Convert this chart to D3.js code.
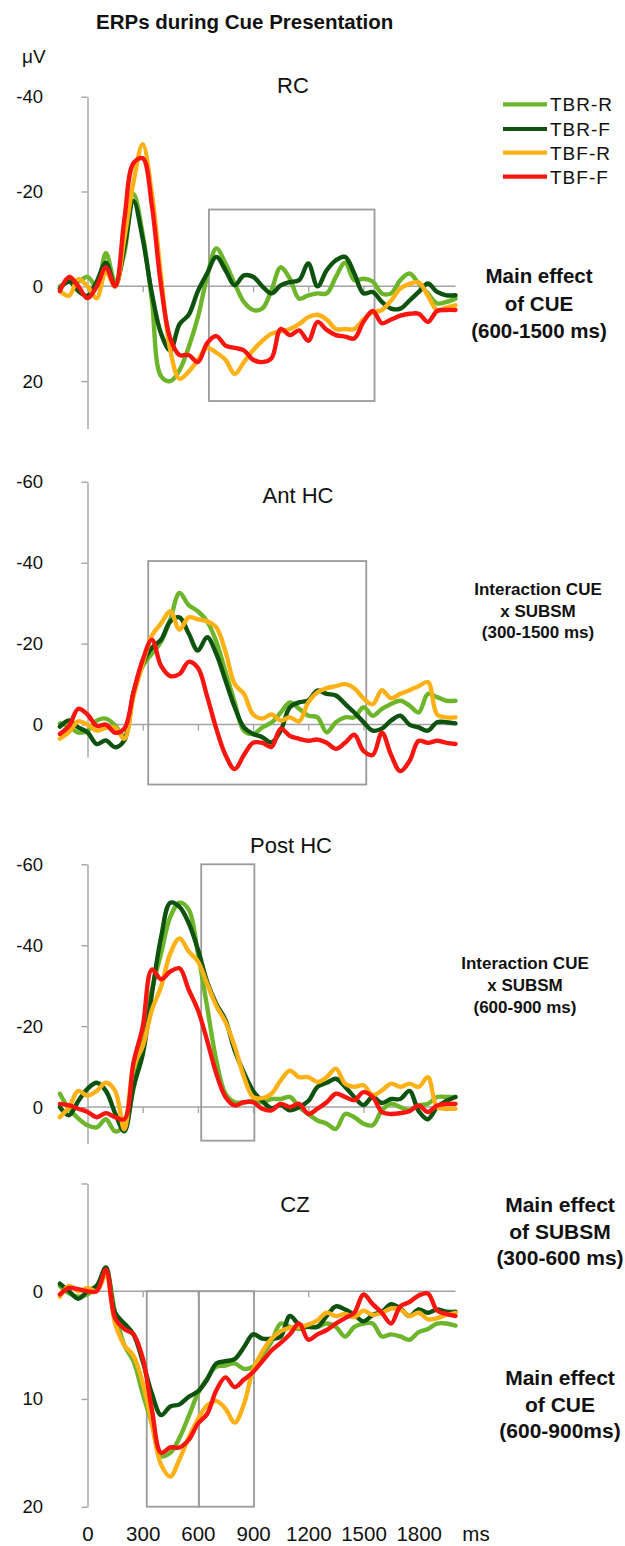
<!DOCTYPE html>
<html>
<head>
<meta charset="utf-8">
<script src="https://cdn.jsdelivr.net/npm/d3@7"></script>
<style>
  html, body { margin: 0; padding: 0; background: #fff; }
  svg { display: block; font-family: Arial, "Liberation Sans", sans-serif; }
</style>
</head>
<body>
<svg id="chart" width="625" height="1546"></svg>
<script>
// ---- sample times (ms) shared by every waveform ----
const times = [-150, -100, -50, 0, 50, 100, 150, 200, 250, 300, 350,
  400, 450, 500, 550, 600, 650, 700, 750, 800, 850, 900,
  950, 1000, 1050, 1100, 1150, 1200, 1250, 1300, 1350, 1400, 1450,
  1500, 1550, 1600, 1650, 1700, 1750, 1800, 1850, 1900, 1950, 2000];

const conditions = ["TBR-R", "TBR-F", "TBF-R", "TBF-F"];
const conditionColors = ["#6db52a", "#0d520f", "#fdb116", "#fa1610"];

// ---- RC (µV) ----
const rcTbrR = [0, -1, -1, -2, 0, -7, -1, -7, -19.5, -11, 3,
  19, 20, 17.7, 12.8, 6.5, -2, -8, -4.8, -0.6, 3.3, 5,
  4.7, 0.8, -4, -1.6, 2.6, 1.9, 1.5, 1.5, -2, -5, -1.3,
  -1.6, -1, 1.5, 1.5, -1.3, -2.7, -0.6, 1.5, 3.6, 3.3, 2.6];
const rcTbrF = [0.5, -1, 1, 2, -1, -5, 0, -8, -18, -10, 1.5,
  10, 13.5, 8, 6, 1, -2.7, -6.2, -3.4, -0.2, -2.3, -2,
  0, 1.5, -0.2, -0.9, -1.3, -4.8, 0, -3.4, -5.5, -6.2, -2.7,
  1.5, 1.2, 3.3, 4.7, 4.7, 3, 1.2, -0.6, 1.2, 1.9, 1.9];
const rcTbfR = [1, 2, -1.5, 0, 2.5, -3, 0, -10, -22, -30, -19.5,
  -2, 13.5, 19.5, 18, 15.5, 13, 14, 15.5, 18.5, 16, 13.5,
  11.5, 10, 9.5, 9, 8, 6.5, 6, 7, 9, 9, 9,
  7, 5.5, 5, 3, 0.5, -0.5, -0.8, 2, 5, 4.5, 4];
const rcTbfF = [1, -2, 0, 2.5, 0, -4, 0, -14, -26, -27, -17,
  0, 11, 14.5, 14.5, 16, 12, 10.5, 12.5, 13, 13.5, 15.5,
  16, 15.2, 9, 10.3, 9.3, 11.5, 7.5, 9.2, 10.3, 10.6, 11,
  7.5, 5.2, 7.8, 7, 6.2, 5.8, 5.8, 7.5, 5.2, 5, 5];

// ---- Ant HC (µV) ----
const antTbrR = [-0.3, 0.5, 2, 1.5, -1, -1.5, 0.2, 3, -7.5, -14.5, -17.5,
  -20.5, -26, -32.5, -29.5, -28, -25.5, -20.5, -13, -5.5, 1.5, 2.3,
  0.7, -0.5, -3, -5.5, -3.9, -2.2, -1.8, 1.9, -0.6, -1.8, -1.8,
  -4.3, -2.2, -3.9, -5.1, -5.9, -4.7, -3, -7.6, -6.8, -5.9, -5.9];
const antTbrF = [0.5, -1, 0.7, 1.9, 4.8, 3.9, 5.6, 3.9, -8, -15, -19,
  -21, -25.5, -26.5, -22.5, -18.3, -21.6, -17.5, -10.9, -4.3, 0.7, 2.3,
  3.1, 4.4, 1.5, -4.3, -5.5, -6, -8.4, -7.6, -7.2, -5.1, -3,
  -0.6, 1.5, 1, -1, -2.2, 0, 0.7, 1.5, -0.6, -0.6, -0.3];
const antTbfR = [3.5, 1.8, -0.8, 0, 1.5, 0.8, 0.8, 3.5, -7, -15, -22,
  -25, -28, -23.5, -26.5, -26, -25.5, -24, -18, -10, -7.6, -2.5,
  -1.5, -2.5, -1, -1.8, -0.8, -5.5, -8, -9, -9.5, -10, -9,
  -6.5, -5, -8.5, -6.5, -7.6, -8.5, -9.5, -10.5, -2.5, -1.8, -1.8];
const antTbfF = [2.3, 0.3, -3.9, -2.5, 0.3, 0, 2, 1, -8, -16, -21,
  -14.5, -12, -12.5, -15.5, -14, -7, 1, 7.5, 11, 7.5, 4.5,
  4.5, 5.5, 1, 2.8, 3.5, 4, 3.7, 4.5, 6, 4.5, 2.5,
  6.5, 7.5, 2, 7.5, 11.5, 9, 4, 4.5, 4, 4.5, 4.8];

// ---- Post HC (µV) ----
const postTbrR = [-3.3, 0.5, 2.8, 4.5, 5, 3, 6, 4.5, -4.5, -17, -29,
  -38, -47, -50.5, -48.8, -38, -24.8, -11.6, -3.3, -1.2, -1.2, -1.5,
  -1.2, -2, -2, -2.5, 0, 1.7, 3.3, 4.1, 5.4, 1.7, 2.5,
  4.1, 4.5, 0.8, -0.8, 0, 0.8, -0.4, -0.8, -2.5, -2.5, -2.5];
const postTbrF = [0, 2, -1.5, -4.5, -6, -4, 1.5, 6, -5, -13, -28,
  -42, -50.5, -49.5, -45.5, -39, -31, -25.5, -21.5, -14, -8.5, -4,
  -1.5, 0.3, -0.5, 0.8, 0, -1.5, -5, -6, -7, -5, -2.5,
  -0.5, -2.5, -1, -2, -2, -4, 1, 3, 0, -1.5, -2.5];
const postTbfR = [2.5, 0, -4, -2.8, -4, -6, -4, 5.5, -10, -15, -24,
  -29.8, -38, -41.7, -38.5, -36, -30.5, -25, -21, -15, -7.5, -2.5,
  -2.2, -3.3, -6.6, -9, -7.4, -7.4, -6.2, -7.4, -9.5, -5.8, -5,
  -5.4, -3, -4.1, -5.8, -5, -5.8, -5, -7.4, 0, 0.4, 0.4];
const postTbfF = [-0.8, -0.4, 0.4, 1.2, 2.5, 1.5, 2.5, 3, -11, -19.8, -34,
  -31.6, -33.5, -34.3, -29, -24, -16.5, -8.3, -2.5, -0.4, -1.2, -1.2,
  0.4, 0.8, -0.8, 0, -0.8, 1.7, 0.4, -1.2, -3.3, -2.5, -1.7,
  -3.7, -2.5, 1.2, 1.7, 1.5, 1, -0.4, 1.2, -0.4, -0.8, -0.8];

// ---- CZ (µV) ----
const czTbrR = [-0.5, 0.2, 0.5, 0.3, -0.5, -1.8, 2, 5, 6.5, 9.5, 12.3,
  15.3, 15, 13.6, 11.6, 9.5, 8.1, 7, 6.9, 6.7, 7.2, 7,
  5.9, 4.7, 3, 3.3, 3.5, 3.3, 3.3, 3, 3.3, 4.2, 3.3,
  3, 3, 4.2, 4, 4.2, 4.5, 3.8, 3.5, 3, 3, 3.2];
const czTbrF = [-0.7, 0, 0.7, 0, -0.5, -2.2, 2, 3, 4, 6.5, 9.5,
  11.5, 10.7, 10.5, 9.8, 9.3, 8.2, 6.7, 6.5, 6.3, 5.2, 4,
  4.4, 4.4, 4.2, 2.3, 3.1, 3.3, 3.3, 2.3, 1.4, 1.7, 2.2,
  2.8, 2.2, 1.9, 1.2, 1.6, 2.3, 1.7, 2, 1.7, 1.9, 1.9];
const czTbfR = [0.5, -0.5, 0, -0.3, 0, -1.5, 3, 5, 6, 8.5, 12.3,
  16.1, 17.2, 15.6, 13.6, 11.9, 10.6, 10.2, 10.9, 12.2, 10.5, 7.3,
  5.6, 4.4, 3.7, 3.4, 3.3, 3.1, 2.7, 2, 2.3, 2.1, 2.4,
  1.8, 2.2, 2, 1.6, 1.7, 2.3, 2, 2.6, 2.5, 2.2, 2];
const czTbfF = [0.3, -0.3, -0.2, 0, 0, -2, 2.5, 3.5, 4, 6.2, 11,
  15, 14.5, 14.5, 13.8, 12.3, 11.4, 9.2, 8, 8.9, 8.2, 7.5,
  6.5, 5.5, 4.8, 4, 3, 4.5, 4, 3.6, 3, 2.5, 2,
  0.3, 1.2, 2, 3, 1.4, 1, 0.4, 0.2, 1.8, 2.1, 2.3];

// ---- analysis windows: [start ms, end ms, top µV, bottom µV] ----
const rcWindows = [[660, 1560, -16.2, 24.2]];
const antWindows = [[330, 1515, -40.4, 14.8]];
const postWindows = [[618, 907, -60, 8.3]];
const czWindows = [[322, 605, 0, 20], [605, 905, 0, 20]];

// ---- axis ticks ----
const xTickValues = [0, 300, 600, 900, 1200, 1500, 1800];
const rcTicks = [-40, -20, 0, 20];
const antTicks = [-60, -40, -20, 0];
const postTicks = [-60, -40, -20, 0];
const czTicks = [-10, 0, 10, 20];
const czLabelledTicks = [0, 10, 20];

// ---- annotation texts ----
const rcNote = ["Main effect", "of CUE", "(600-1500 ms)"];
const antNote = ["Interaction CUE", "x SUBSM", "(300-1500 ms)"];
const postNote = ["Interaction CUE", "x SUBSM", "(600-900 ms)"];
const czNoteSubsm = ["Main effect", "of SUBSM", "(300-600 ms)"];
const czNoteCue = ["Main effect", "of CUE", "(600-900ms)"];

// ---- panel layout ----
const panels = [
  { name: "RC", series: [rcTbrR, rcTbrF, rcTbfR, rcTbfF], domain: [-40, 30],
    top: 96.7, bottom: 428.5, ticks: rcTicks, labelled: rcTicks, windows: rcWindows,
    titleX: 293, titleY: 93,
    notes: [{ lines: rcNote, x: 539, y: 283, step: 27.5, size: 20.5 }] },
  { name: "Ant HC", series: [antTbrR, antTbrF, antTbfR, antTbfF], domain: [-60, 8],
    top: 481.7, bottom: 757, ticks: antTicks, labelled: antTicks, windows: antWindows,
    titleX: 298, titleY: 503,
    notes: [{ lines: antNote, x: 538, y: 595, step: 21.7, size: 17 }] },
  { name: "Post HC", series: [postTbrR, postTbrF, postTbfR, postTbfF], domain: [-60, 9],
    top: 864.3, bottom: 1143.5, ticks: postTicks, labelled: postTicks, windows: postWindows,
    titleX: 291, titleY: 853,
    notes: [{ lines: postNote, x: 525, y: 969, step: 21.8, size: 17 }] },
  { name: "CZ", series: [czTbrR, czTbrF, czTbfR, czTbfF], domain: [-10, 20],
    top: 1183.5, bottom: 1506.7, ticks: czTicks, labelled: czLabelledTicks, windows: czWindows,
    titleX: 295, titleY: 1212,
    notes: [{ lines: czNoteSubsm, x: 560, y: 1212, step: 26.6, size: 21 },
            { lines: czNoteCue, x: 560, y: 1385, step: 26.6, size: 21 }] }
];

const svg = d3.select("#chart");
const axisGrey = "#a3a3a3";
const boxGrey = "#9b9b9b";

const x = d3.scaleLinear().domain([-150, 2000]).range([59.9, 455.5]);

// figure title and unit
svg.append("text").attr("x", 96).attr("y", 29)
  .attr("font-size", 20.5).attr("font-weight", "bold").attr("fill", "#111")
  .text("ERPs during Cue Presentation");
svg.append("text").attr("x", 22).attr("y", 63)
  .attr("font-size", 19).attr("fill", "#111").text("μV");

panels.forEach(p => {
  const y = d3.scaleLinear().domain(p.domain).range([p.top, p.bottom]);
  const g = svg.append("g");

  // vertical µV axis at 0 ms
  const yAxis = d3.axisLeft(y).tickValues(p.ticks).tickSize(6).tickSizeOuter(0)
    .tickPadding(38.5)
    .tickFormat(d => p.labelled.includes(d) ? String(d) : "");
  const ya = g.append("g").attr("transform", `translate(${x(0)},0)`).call(yAxis);
  ya.select(".domain").attr("stroke", axisGrey).attr("stroke-width", 1.4);
  ya.selectAll(".tick line").attr("stroke", axisGrey).attr("stroke-width", 1.4);
  ya.selectAll(".tick text").attr("font-size", 18.5).attr("fill", "#111")
    .attr("font-family", 'Arial, "Liberation Sans", sans-serif');

  // zero line with time ticks
  g.append("line")
    .attr("x1", x(0)).attr("x2", x(2000)).attr("y1", y(0)).attr("y2", y(0))
    .attr("stroke", axisGrey).attr("stroke-width", 1.5);
  const za = g.append("g").attr("transform", `translate(0,${y(0)})`)
    .call(d3.axisBottom(x).tickValues(xTickValues.slice(1)).tickSize(6).tickFormat(""));
  za.select(".domain").remove();
  za.selectAll(".tick line").attr("stroke", axisGrey).attr("stroke-width", 1.3);

  // analysis windows
  g.selectAll("rect.win").data(p.windows).join("rect").attr("class", "win")
    .attr("x", d => x(d[0])).attr("width", d => x(d[1]) - x(d[0]))
    .attr("y", d => y(d[2])).attr("height", d => y(d[3]) - y(d[2]))
    .attr("fill", "none").attr("stroke", boxGrey).attr("stroke-width", 1.8);

  // waveforms
  const line = d3.line()
    .x((d, i) => x(times[i]))
    .y(d => y(d))
    .curve(d3.curveCatmullRom.alpha(0.5));
  g.selectAll("path.wave").data(p.series).join("path").attr("class", "wave")
    .attr("d", line).attr("fill", "none")
    .attr("stroke", (d, i) => conditionColors[i])
    .attr("stroke-width", 4.4)
    .attr("stroke-linejoin", "round").attr("stroke-linecap", "round");

  // panel title
  g.append("text").attr("x", p.titleX).attr("y", p.titleY)
    .attr("text-anchor", "middle").attr("font-size", 22).attr("fill", "#111")
    .text(p.name);

  // statistics notes
  p.notes.forEach(n => {
    const t = g.append("text").attr("text-anchor", "middle")
      .attr("font-size", n.size).attr("font-weight", "bold").attr("fill", "#111");
    n.lines.forEach((s, i) => {
      t.append("tspan").attr("x", n.x).attr("y", n.y + i * n.step).text(s);
    });
  });
});

// time axis labels under the last panel
const xa = svg.append("g").attr("transform", "translate(0,1518)")
  .call(d3.axisBottom(x).tickValues(xTickValues).tickSize(0).tickPadding(8).tickFormat(d => String(d)));
xa.select(".domain").remove();
xa.selectAll(".tick text").attr("font-size", 20.5).attr("fill", "#111")
  .attr("font-family", 'Arial, "Liberation Sans", sans-serif');
svg.append("text").attr("x", 476).attr("y", 1540.5).attr("text-anchor", "middle")
  .attr("font-size", 20.5).attr("fill", "#111").text("ms");

// legend
const legendY = [104.3, 129, 152.7, 176.7];
const lg = svg.append("g");
conditions.forEach((c, i) => {
  lg.append("line").attr("x1", 503).attr("x2", 547)
    .attr("y1", legendY[i]).attr("y2", legendY[i])
    .attr("stroke", conditionColors[i]).attr("stroke-width", 4.2);
  lg.append("text").attr("x", 550).attr("y", legendY[i] + 6.8)
    .attr("font-size", 19).attr("letter-spacing", 1).attr("fill", "#111").text(c);
});
</script>
</body>
</html>
